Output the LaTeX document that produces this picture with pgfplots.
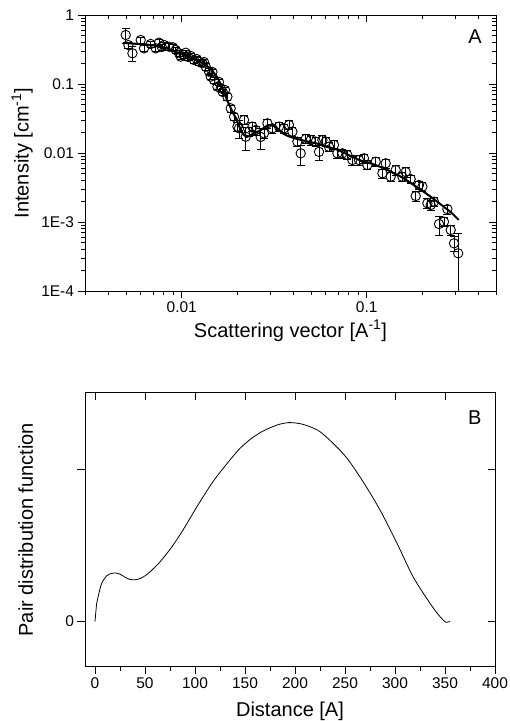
\documentclass[border=0pt]{standalone}
\usepackage{pgfplots}
\pgfplotsset{compat=1.18}
\usepackage{pgfplotstable}
\usepackage{fontspec}
\setmainfont{Liberation Sans}

\pgfplotstableread{
q I dI
0.004981 0.513 0.128
0.005151 0.367 0.037
0.005414 0.279 0.068
0.006003 0.434 0.043
0.006255 0.329 0.033
0.006800 0.380 0.038
0.007233 0.329 0.033
0.007538 0.397 0.040
0.007796 0.344 0.034
0.008024 0.368 0.037
0.008538 0.347 0.035
0.008975 0.340 0.034
0.009280 0.311 0.031
0.009670 0.279 0.028
0.009876 0.249 0.025
0.010252 0.263 0.026
0.010510 0.284 0.028
0.010842 0.246 0.025
0.011185 0.255 0.025
0.011655 0.223 0.022
0.012053 0.230 0.023
0.012405 0.210 0.021
0.012940 0.200 0.020
0.013199 0.208 0.021
0.013482 0.178 0.018
0.014047 0.151 0.015
0.014348 0.128 0.013
0.014652 0.149 0.015
0.014948 0.114 0.011
0.015596 0.0914 0.009
0.015909 0.107 0.011
0.016250 0.0866 0.009
0.016659 0.0766 0.008
0.017140 0.0818 0.008
0.017660 0.0655 0.007
0.018402 0.0444 0.005
0.019174 0.0336 0.004
0.020003 0.0241 0.0036
0.020404 0.0228 0.0065
0.021716 0.0301 0.0045
0.022182 0.0172 0.0062
0.023115 0.0204 0.0031
0.024112 0.0241 0.0036
0.025119 0.0215 0.0032
0.026730 0.0171 0.0060
0.027855 0.0193 0.0029
0.029056 0.0269 0.0040
0.030925 0.0228 0.0034
0.033574 0.0241 0.0036
0.035727 0.0228 0.0034
0.038019 0.0255 0.0038
0.039664 0.0204 0.0031
0.042207 0.0146 0.0022
0.043975 0.0099 0.0032
0.046806 0.0160 0.0024
0.049822 0.0154 0.0023
0.053027 0.0146 0.0022
0.055235 0.0104 0.0025
0.057615 0.0154 0.0023
0.060033 0.0146 0.0022
0.062549 0.0123 0.0018
0.066558 0.0131 0.0020
0.069438 0.0099 0.0015
0.073892 0.0099 0.0015
0.078652 0.00935 0.0014
0.083696 0.00792 0.0012
0.090867 0.00792 0.0012
0.096693 0.00838 0.0013
0.10088 0.0067 0.0010
0.11184 0.00748 0.0011
0.12160 0.00508 0.0008
0.12666 0.00709 0.0011
0.13479 0.00453 0.0007
0.14351 0.00567 0.0009
0.15596 0.00453 0.0007
0.16250 0.0053 0.0008
0.17293 0.0042 0.0006
0.18410 0.00238 0.0004
0.19174 0.00344 0.0005
0.20003 0.00325 0.0005
0.21290 0.00187 0.0003
0.22180 0.00176 0.0003
0.23115 0.00197 0.0003
0.24596 0.000935 0.00029
0.26170 0.00101 0.00015
0.27300 0.00154 0.00023
0.28450 0.000766 0.00012
0.29640 0.000491 0.00012
0.31230 0.000352 0.00033
}\saxsdata

\pgfplotstableread{
q I
0.004799 0.393
0.006800 0.368
0.008192 0.332
0.010000 0.272
0.011900 0.223
0.013480 0.189
0.015260 0.135
0.016250 0.100
0.017510 0.0606
0.018630 0.0420
0.019830 0.0301
0.021100 0.0202
0.022450 0.0171
0.024200 0.0189
0.026730 0.0215
0.029530 0.0255
0.032220 0.0238
0.035590 0.0189
0.040310 0.0165
0.046800 0.0149
0.053660 0.0137
0.060020 0.0124
0.069690 0.0111
0.079930 0.00935
0.092810 0.00779
0.107800 0.00693
0.123600 0.00600
0.139900 0.00513
0.158500 0.00430
0.179500 0.00344
0.203300 0.00275
0.230300 0.00215
0.260800 0.00167
0.288100 0.00135
0.314300 0.00107
}\saxsfit

\pgfplotstableread{
r p
0 0
1.7 0.121
3.3 0.170
6.7 0.253
11.7 0.302
15 0.315
20 0.321
25 0.313
30 0.293
35 0.278
40 0.276
45 0.284
50 0.302
55 0.328
65 0.394
77 0.494
88 0.604
102 0.758
118 0.923
135 1.066
145 1.142
155 1.200
165 1.245
175 1.278
185 1.302
194 1.312
205 1.305
215 1.285
225 1.252
238 1.176
252 1.077
268 0.923
285 0.736
302 0.517
318 0.297
335 0.121
345 0.033
351 -0.004
355 0.002
}\pdfdata

\pgfplotsset{
  base/.style={
    scale only axis,
    axis line style={line width=0.9pt},
    every tick/.style={black, line width=0.9pt},
    major tick length=7.5pt,
    minor tick length=4pt,
    tick label style={font=\fontsize{15.5}{18}\selectfont},
    label style={font=\fontsize{20}{24}\selectfont},
    /pgf/number format/assume math mode=true,
    tick pos=left, tick align=outside,
  },
  mirror/.style={
    scale only axis,
    axis line style={line width=0.9pt},
    every tick/.style={black, line width=0.9pt},
    major tick length=7.5pt,
    minor tick length=4pt,
    tick pos=right, tick align=inside,
    xticklabels={}, yticklabels={},
    tick label style={opacity=0, text opacity=0},
  },
}

\begin{document}
\begin{tikzpicture}
\path[use as bounding box] (0pt,0pt) rectangle (510pt,-721pt);

% ---------- Panel A ----------
\begin{axis}[base,
  at={(85pt,-291pt)}, anchor=south west, width=411pt, height=276pt,
  xmode=log, ymode=log, xmin=0.003, xmax=0.5, ymin=1e-4, ymax=1,
  xtick={0.01,0.1}, xticklabels={0.01,0.1},
  minor xtick={0.003,0.004,0.005,0.006,0.007,0.008,0.009,0.02,0.03,0.04,0.05,0.06,0.07,0.08,0.09,0.2,0.3,0.4,0.5},
  ytick={1e-4,1e-3,0.01,0.1,1}, yticklabels={1E-4,1E-3,0.01,0.1,1},
  minor ytick={2e-4,3e-4,4e-4,5e-4,6e-4,7e-4,8e-4,9e-4,2e-3,3e-3,4e-3,5e-3,6e-3,7e-3,8e-3,9e-3,0.02,0.03,0.04,0.05,0.06,0.07,0.08,0.09,0.2,0.3,0.4,0.5,0.6,0.7,0.8,0.9},
  xlabel={Scattering vector [A\textsuperscript{-1}]},
  ylabel={Intensity [cm\textsuperscript{-1}]},
  xlabel style={at={(axis description cs:0.5,-0.1667)}, anchor=base},
  ylabel style={at={(axis description cs:-0.153,0.5)}, anchor=center},
]
\addplot[black, only marks, mark=o, mark size=4.7pt, mark options={line width=0.9pt},
  error bars/.cd, y dir=both, y explicit,
  error bar style={line width=0.8pt},
  error mark options={rotate=90, mark size=4pt, line width=0.8pt}]
  table[x=q, y=I, y error=dI] {\saxsdata};
\addplot[black, line width=2pt, smooth, no markers] table[x=q, y=I] {\saxsfit};
\node[font=\fontsize{20}{24}\selectfont] at (axis description cs:0.949,0.920) {A};
\end{axis}
\begin{axis}[mirror,
  at={(85pt,-291pt)}, anchor=south west, width=411pt, height=276pt,
  xmode=log, ymode=log, xmin=0.003, xmax=0.5, ymin=1e-4, ymax=1,
  xtick={0.01,0.1},
  minor xtick={0.003,0.004,0.005,0.006,0.007,0.008,0.009,0.02,0.03,0.04,0.05,0.06,0.07,0.08,0.09,0.2,0.3,0.4,0.5},
  ytick={1e-4,1e-3,0.01,0.1,1},
  minor ytick={2e-4,3e-4,4e-4,5e-4,6e-4,7e-4,8e-4,9e-4,2e-3,3e-3,4e-3,5e-3,6e-3,7e-3,8e-3,9e-3,0.02,0.03,0.04,0.05,0.06,0.07,0.08,0.09,0.2,0.3,0.4,0.5,0.6,0.7,0.8,0.9},
]
\end{axis}

% ---------- Panel B ----------
\begin{axis}[base,
  at={(85pt,-666.7pt)}, anchor=south west, width=410pt, height=274pt,
  xmin=-10, xmax=400, ymin=-0.297, ymax=1.509,
  xtick={0,50,...,400}, minor xtick={25,75,...,375},
  ytick={0,1}, yticklabels={0,{}},
  xlabel={Distance [A]},
  ylabel={Pair distribution function},
  xlabel style={at={(axis description cs:0.5,-0.182)}, anchor=base},
  ylabel style={at={(axis description cs:-0.1444,0.5)}, anchor=center},
]
\addplot[black, line width=0.8pt, smooth, no markers] table[x=r, y=p] {\pdfdata};
\node[font=\fontsize{20}{24}\selectfont] at (axis description cs:0.951,0.908) {B};
\end{axis}
\begin{axis}[mirror,
  at={(85pt,-666.7pt)}, anchor=south west, width=410pt, height=274pt,
  xmin=-10, xmax=400, ymin=-0.297, ymax=1.509,
  xtick={0,50,...,400}, ytick={0,1},
]
\end{axis}
\end{tikzpicture}
\end{document}
